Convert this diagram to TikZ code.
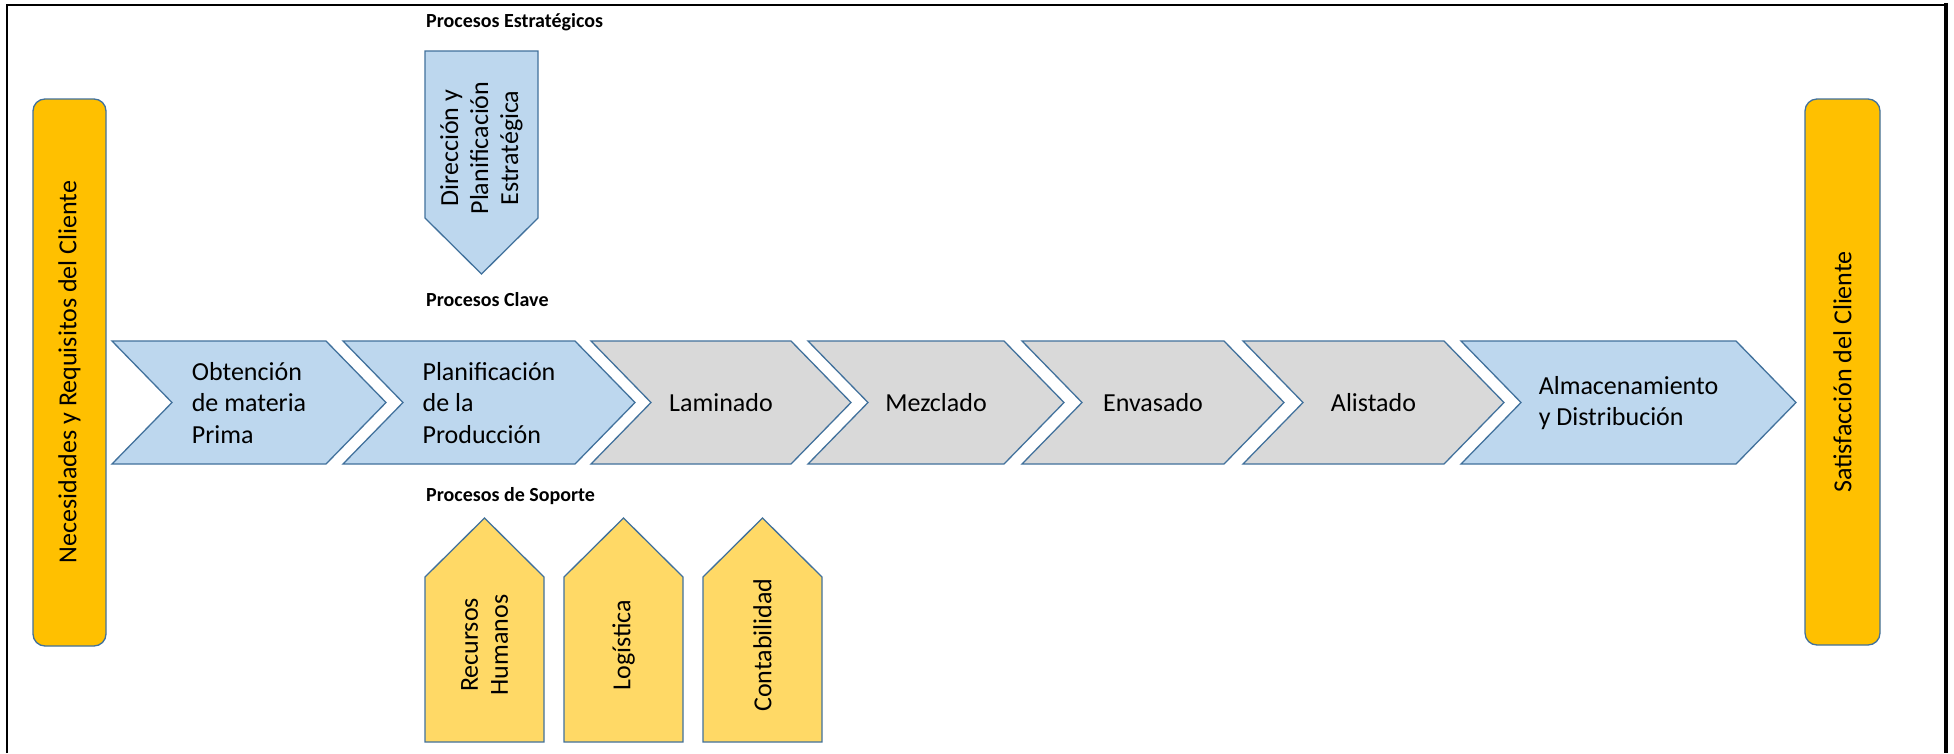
\documentclass[tikz,border=0pt]{standalone}
\usepackage{fontspec}
\setmainfont{Carlito}
\definecolor{edgeblue}{HTML}{41719C}
\definecolor{keyblue}{HTML}{BDD7EE}
\definecolor{keygray}{HTML}{D9D9D9}
\definecolor{supyellow}{HTML}{FFD966}
\definecolor{custorange}{HTML}{FFC000}
\tikzset{
  shapeline/.style={draw=edgeblue, line width=1.3pt, line join=miter},
  bluechev/.style={shapeline, fill=keyblue},
  graychev/.style={shapeline, fill=keygray},
  supbox/.style={shapeline, fill=supyellow},
  stratbox/.style={shapeline, fill=keyblue},
  custbox/.style={shapeline, fill=custorange, rounded corners=12pt},
  bodytext/.style={inner sep=0pt, align=left, font=\fontsize{26}{31.5}\selectfont},
  vtext/.style={inner sep=0pt, align=center, rotate=90, font=\fontsize{26}{30}\selectfont},
  grouptitle/.style={inner sep=0pt, anchor=west, font=\fontsize{20}{24}\selectfont\bfseries},
}
% chevron of the key process chain: name, left x, tip x, style, label
\newcommand{\procchev}[5]{%
  \draw[#4] (#2,341) -- ({#3-60},341) -- (#3,402.5) -- ({#3-60},464)
    -- (#2,464) -- ({#2+60},402.5) -- cycle;
  \node[bodytext] (#1) at ({(#2+#3)/2},403) {#5};
}
% upward pentagon for a support process: name, left x, label
\newcommand{\supparrow}[3]{%
  \draw[supbox] (#2,742) -- (#2,577) -- ({#2+59.5},518) -- ({#2+119},577)
    -- ({#2+119},742) -- cycle;
  \node[vtext] (#1) at ({#2+59.5},645) {#3};
}
\begin{document}
\begin{tikzpicture}[x=1pt, y=-1pt]
\useasboundingbox (0,0) rectangle (1954,753);
\fill[white] (0,0) rectangle (1954,753);

% outer frame
\draw[black, line width=2pt] (6.5,753) -- (6.5,5) -- (1946,5);
\draw[black, line width=4pt] (1946,3) -- (1946,753);

% customer boxes
\draw[custbox] (33,99) rectangle (106,646);
\node[vtext] (needs) at (69.5,372) {Necesidades y Requisitos del Cliente};
\draw[custbox] (1805,99) rectangle (1880,645);
\node[vtext] (satisf) at (1842.5,372) {Satisfacción del Cliente};

% strategic process
\node[grouptitle] (ttlstrat) at (426,22) {Procesos Estratégicos};
\draw[stratbox] (425,51) -- (538,51) -- (538,218) -- (481.5,274) -- (425,218) -- cycle;
\node[vtext] (direc) at (481.5,148) {Dirección y\\Planificación\\Estratégica};

% key processes
\node[grouptitle] (ttlkey) at (426,300) {Procesos Clave};
\procchev{obt}{112}{386}{bluechev}{Obtención\\de materia\\Prima}
\procchev{plan}{343}{635}{bluechev}{Planificación\\de la\\Producción}
\procchev{lam}{591}{851}{graychev}{Laminado}
\procchev{mez}{808}{1064}{graychev}{Mezclado}
\procchev{env}{1022}{1284}{graychev}{Envasado}
\procchev{ali}{1243}{1504}{graychev}{Alistado}
\procchev{alm}{1461}{1796}{bluechev}{Almacenamiento\\y Distribución}

% support processes
\node[grouptitle] (ttlsup) at (426,496) {Procesos de Soporte};
\supparrow{rrhh}{425}{Recursos\\Humanos}
\supparrow{logis}{564}{Logística}
\supparrow{conta}{703}{Contabilidad}
\end{tikzpicture}
\end{document}
